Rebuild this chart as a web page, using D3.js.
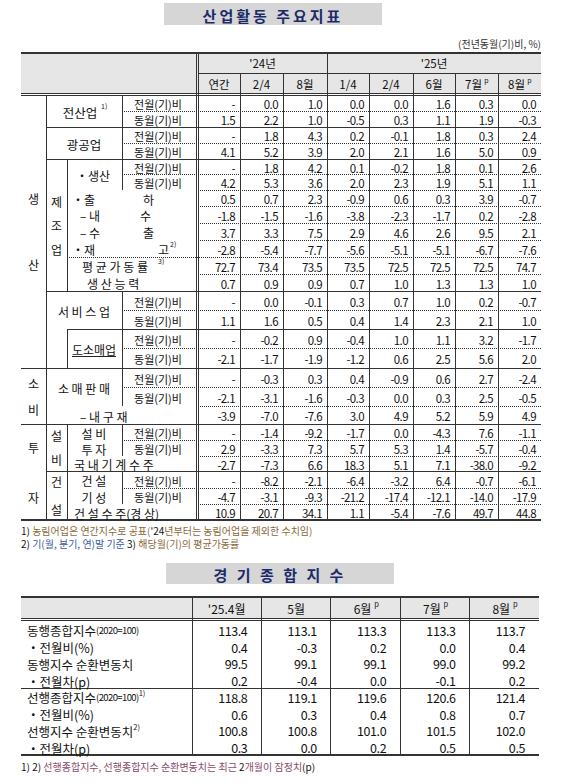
<!DOCTYPE html>
<html><head><meta charset="utf-8">
<script src="https://cdn.jsdelivr.net/npm/d3@7"></script>
<style>
body{margin:0;background:#fff;}
text{font-family:"Noto Sans CJK KR","Noto Sans",sans-serif;}
</style></head>
<body><svg id="c" width="564" height="783"></svg>
<script>
// ---- data: table 1 (산업활동 주요지표)
const yearHeads = ["'24년", "'25년"];
const colHeads = ["연간", "2/4", "8월", "1/4", "2/4", "6월", "7월p", "8월p"];
const allIndustry = [["-", "0.0", "1.0", "0.0", "0.0", "1.6", "0.3", "0.0"], ["1.5", "2.2", "1.0", "-0.5", "0.3", "1.1", "1.9", "-0.3"]];
const mining = [["-", "1.8", "4.3", "0.2", "-0.1", "1.8", "0.3", "2.4"], ["4.1", "5.2", "3.9", "2.0", "2.1", "1.6", "5.0", "0.9"]];
const mfgProd = [["-", "1.8", "4.2", "0.1", "-0.2", "1.8", "0.1", "2.6"], ["4.2", "5.3", "3.6", "2.0", "2.3", "1.9", "5.1", "1.1"]];
const shipment = ["0.5", "0.7", "2.3", "-0.9", "0.6", "0.3", "3.9", "-0.7"];
const domestic = ["-1.8", "-1.5", "-1.6", "-3.8", "-2.3", "-1.7", "0.2", "-2.8"];
const exportV = ["3.7", "3.3", "7.5", "2.9", "4.6", "2.6", "9.5", "2.1"];
const inventory = ["-2.8", "-5.4", "-7.7", "-5.6", "-5.1", "-5.1", "-6.7", "-7.6"];
const utilization = ["72.7", "73.4", "73.5", "73.5", "72.5", "72.5", "72.5", "74.7"];
const capacity = ["0.7", "0.9", "0.9", "0.7", "1.0", "1.3", "1.3", "1.0"];
const services = [["-", "0.0", "-0.1", "0.3", "0.7", "1.0", "0.2", "-0.7"], ["1.1", "1.6", "0.5", "0.4", "1.4", "2.3", "2.1", "1.0"]];
const wholesale = [["-", "-0.2", "0.9", "-0.4", "1.0", "1.1", "3.2", "-1.7"], ["-2.1", "-1.7", "-1.9", "-1.2", "0.6", "2.5", "5.6", "2.0"]];
const retail = [["-", "-0.3", "0.3", "0.4", "-0.9", "0.6", "2.7", "-2.4"], ["-2.1", "-3.1", "-1.6", "-0.3", "0.0", "0.3", "2.5", "-0.5"]];
const durables = ["-3.9", "-7.0", "-7.6", "3.0", "4.9", "5.2", "5.9", "4.9"];
const facility = [["-", "-1.4", "-9.2", "-1.7", "0.0", "-4.3", "7.6", "-1.1"], ["2.9", "-3.3", "7.3", "5.7", "5.3", "1.4", "-5.7", "-0.4"]];
const machinery = ["-2.7", "-7.3", "6.6", "18.3", "5.1", "7.1", "-38.0", "-9.2"];
const construction = [["-", "-8.2", "-2.1", "-6.4", "-3.2", "6.4", "-0.7", "-6.1"], ["-4.7", "-3.1", "-9.3", "-21.2", "-17.4", "-12.1", "-14.0", "-17.9"]];
const orders = ["10.9", "20.7", "34.1", "1.1", "-5.4", "-7.6", "49.7", "44.8"];

// ---- data: table 2 (경기종합지수)
const cliHeads = ["'25.4월", "5월", "6월p", "7월p", "8월p"];
const cliLabels = ["동행종합지수(2020=100)", "・전월비(%)", "동행지수 순환변동치", "・전월차(p)", "선행종합지수(2020=100)¹⁾", "・전월비(%)", "선행지수 순환변동치²⁾", "・전월차(p)"];
const cliValues = [
  ["113.4", "113.1", "113.3", "113.3", "113.7"],
  ["0.4", "-0.3", "0.2", "0.0", "0.4"],
  ["99.5", "99.1", "99.1", "99.0", "99.2"],
  ["0.2", "-0.4", "0.0", "-0.1", "0.2"],
  ["118.8", "119.1", "119.6", "120.6", "121.4"],
  ["0.6", "0.3", "0.4", "0.8", "0.7"],
  ["100.8", "100.8", "101.0", "101.5", "102.0"],
  ["0.3", "0.0", "0.2", "0.5", "0.5"]
];

const bodyRows = [
  allIndustry[0], allIndustry[1], mining[0], mining[1], mfgProd[0], mfgProd[1],
  shipment, domestic, exportV, inventory, utilization, capacity,
  services[0], services[1], wholesale[0], wholesale[1], retail[0], retail[1], durables,
  facility[0], facility[1], machinery, construction[0], construction[1], orders
];
const subLabels = ["전월(기)비", "동월(기)비"];
const pairStarts = [0, 2, 4, 12, 14, 16, 19, 22];

const svg = d3.select("#c");
const ink = "#111";

// ---- layout
const xCols = [198, 240, 283, 327, 369, 413, 455, 498, 541];
const yRows = [95, 111, 127, 143, 159, 174, 190, 206, 223, 240, 257, 274, 291, 310, 329, 348, 368, 387, 406, 424, 440, 456, 471, 488, 504, 520];
const X0 = 21, XA = 46, XB = 67, XC = 122, XR = 541;

function line(x1, y1, x2, y2, opt = {}) {
  svg.append("line").attr("x1", x1).attr("y1", y1).attr("x2", x2).attr("y2", y2)
    .attr("stroke", opt.c || "#333").attr("stroke-width", opt.w || 1)
    .attr("stroke-dasharray", opt.dash ? "1,1" : null).attr("shape-rendering", "crispEdges");
}
function txt(s, x, y, opt = {}) {
  return svg.append("text").attr("x", x).attr("y", y).attr("text-anchor", opt.a || "middle")
    .attr("dominant-baseline", "central").attr("font-size", opt.fs || 11.5)
    .attr("fill", opt.fill || ink).attr("letter-spacing", opt.ls || null)
    .attr("font-weight", opt.fw || null).text(s);
}
function titleBox(s, x, y, w, h) {
  svg.append("rect").attr("x", x).attr("y", y).attr("width", w).attr("height", h).attr("fill", "#d6d6d6");
  txt(s, x + w / 2, y + h / 2 + 1, { fs: 15, fw: "bold", fill: "#1d2a6a", ls: 3 });
}

// ---- table 1
titleBox("산업활동 주요지표", 164, 3, 218, 22);
txt("(전년동월(기)비, %)", XR, 43, { a: "end", fs: 10, fill: "#333" });

const hTop = 53, hMid = 73, hBot = 93;
svg.append("rect").attr("x", X0).attr("y", hTop).attr("width", XR - X0).attr("height", hBot - hTop).attr("fill", "#e6e6e6");
line(X0, hTop, XR, hTop, { w: 1.5 });
line(X0, hBot, XR, hBot); line(X0, hBot + 2, XR, hBot + 2);
line(xCols[0], hMid, XR, hMid);
line(xCols[0] - 2, hTop, xCols[0] - 2, yRows[yRows.length - 1]);
line(xCols[0], hTop, xCols[0], yRows[yRows.length - 1]);
xCols.slice(1, -1).forEach((x, i) => line(x, i === 2 ? hTop : hMid, x, yRows[yRows.length - 1]));
txt(yearHeads[0], (xCols[0] + xCols[3]) / 2, (hTop + hMid) / 2);
txt(yearHeads[1], (xCols[3] + xCols[8]) / 2, (hTop + hMid) / 2);
colHeads.forEach((h, i) => {
  const cx = (xCols[i] + xCols[i + 1]) / 2, cy = (hMid + hBot) / 2 + 1;
  if (h.endsWith("p")) {
    txt(h.slice(0, -1), cx - 3, cy);
    txt("p", cx + 10, cy - 4, { fs: 7 });
  } else txt(h, cx, cy);
});

// body values
const rowMid = i => (yRows[i] + yRows[i + 1]) / 2;
bodyRows.forEach((vals, r) => {
  vals.forEach((v, c) => txt(v, xCols[c + 1] - 5, rowMid(r) + 1, { a: "end", ls: -0.6 }));
});

// row separators
const solidFrom = { 2: XA, 4: XA, 10: XB, 12: XA, 14: XB, 16: X0, 19: X0, 22: XA, 25: X0 };
const inPair = r => pairStarts.includes(r - 1);
for (let r = 1; r < yRows.length; r++) {
  const y = yRows[r];
  if (r === 10) { line(XB, y, XR, y, { dash: true }); continue; }
  if (solidFrom[r] !== undefined) line(solidFrom[r], y, XR, y, { w: r === 25 ? 1.5 : 1 });
  else line(inPair(r) ? XC : xCols[0], y, XR, y, { dash: true });
}

// vertical label lines
line(XA, yRows[0], XA, yRows[25]);
[[4, 12], [14, 16], [19, 25]].forEach(([a, b]) => line(XB, yRows[a], XB, yRows[b]));
[[0, 6], [12, 18], [19, 21], [22, 24]].forEach(([a, b]) => line(XC, yRows[a], XC, yRows[b]));

pairStarts.forEach(r => {
  subLabels.forEach((s, k) => txt(s, (XC + xCols[0]) / 2 - 2, rowMid(r + k) + 1, { fs: 11 }));
});

// stacked vertical labels
function vstack(chars, x, r0, r1, gap) {
  const cy = (yRows[r0] + yRows[r1]) / 2, n = chars.length;
  chars.forEach((ch, i) => txt(ch, x, cy + (i - (n - 1) / 2) * gap, { fs: 12 }));
}
vstack(["생", "산"], (X0 + XA) / 2, 0, 16, 66);
vstack(["소", "비"], (X0 + XA) / 2, 16, 19, 26);
vstack(["투", "자"], (X0 + XA) / 2, 19, 25, 50);
vstack(["제", "조", "업"], (XA + XB) / 2, 4, 12, 24);
vstack(["설", "비"], (XA + XB) / 2, 19, 22, 24);
vstack(["건", "설"], (XA + XB) / 2, 22, 25, 28);

const mid2 = (r0, r1) => (yRows[r0] + yRows[r1]) / 2;
txt("전산업", 80, mid2(0, 2) + 1, { fs: 12.5 }); txt("1)", 101, mid2(0, 2) - 5, { fs: 7, a: "start" });
txt("광공업", 84, mid2(2, 4) + 1, { fs: 12.5 });
txt("・생산", 93, mid2(4, 6) + 1, { fs: 12 });
const leftRows = [[6, "・출", 72, "하", 143], [7, "– 내", 80, "수", 140], [8, "– 수", 80, "출", 143], [9, "・재", 72, "고", 158]];
leftRows.forEach(([r, a, xa, b, xb]) => { txt(a, xa, rowMid(r) + 1, { fs: 12, a: "start" }); txt(b, xb, rowMid(r) + 1, { fs: 12, a: "start" }); });
txt("2)", 170, rowMid(9) - 5, { fs: 7, a: "start" });
txt("평 균 가 동 률", 82, rowMid(10) + 1, { fs: 12, a: "start" }); txt("3)", 158, rowMid(10) - 5, { fs: 7, a: "start" });
txt("생  산  능  력", 87, rowMid(11) + 1, { fs: 12, a: "start" });
txt("서 비 스 업", 84, mid2(12, 14) + 1, { fs: 12 });
txt("도소매업", 94, mid2(14, 16) + 1, { fs: 12 });
line(72, mid2(14, 16) + 8, 116, mid2(14, 16) + 8, { c: "#222" });
txt("소 매 판 매", 84, mid2(16, 18) + 1, { fs: 12 });
txt("– 내 구 재", 80, rowMid(18) + 1, { fs: 12, a: "start" });
txt("설   비", 94, rowMid(19) + 1, { fs: 12 }); txt("투   자", 94, rowMid(20) + 1, { fs: 12 });
txt("국 내 기 계 수 주", 74, rowMid(21) + 1, { fs: 12, a: "start" });
txt("건   설", 94, rowMid(22) + 1, { fs: 12 }); txt("기   성", 94, rowMid(23) + 1, { fs: 12 });
txt("건 설 수 주(경 상)", 74, rowMid(24) + 1, { fs: 12, a: "start" });

// footnotes
const fn1 = svg.append("text").attr("x", X0).attr("y", 530).attr("dominant-baseline", "central").attr("font-size", 10);
fn1.append("tspan").attr("fill", ink).text("1) ");
fn1.append("tspan").attr("fill", "#8a6a3a").text("농림어업은 연간지수로 공표(");
fn1.append("tspan").attr("fill", ink).text("'24");
fn1.append("tspan").attr("fill", "#8a6a3a").text("년부터는 농림어업을 제외한 수치임)");
const fn2 = svg.append("text").attr("x", X0).attr("y", 543).attr("dominant-baseline", "central").attr("font-size", 10);
fn2.append("tspan").attr("fill", ink).text("2) ");
fn2.append("tspan").attr("fill", "#3a5aa0").text("기(월, 분기, 연)말 기준 ");
fn2.append("tspan").attr("fill", ink).text("3) ");
fn2.append("tspan").attr("fill", "#8a6a3a").text("해당월(기)의 평균가동률");

// ---- table 2
titleBox("경 기 종 합 지 수", 166, 563, 228, 21);
const x2 = d3.scaleBand().domain(d3.range(cliHeads.length)).range([192, 539]);
const y2 = d3.scaleBand().domain(d3.range(cliLabels.length)).range([621, 755]);
const t2Top = 597, t2Bot = 618;
svg.append("rect").attr("x", X0).attr("y", t2Top).attr("width", 539 - X0).attr("height", t2Bot - t2Top).attr("fill", "#e6e6e6");
line(X0, t2Top, 539, t2Top, { w: 1.5 });
line(X0, t2Bot, 539, t2Bot); line(X0, t2Bot + 2, 539, t2Bot + 2);
line(X0, y2(4), 539, y2(4));
line(X0, 755, 539, 755, { w: 1.5 });
cliHeads.forEach((h, i) => {
  line(x2(i), t2Top, x2(i), 755);
  const cx = x2(i) + x2.bandwidth() / 2, cy = (t2Top + t2Bot) / 2 + 1;
  if (h.endsWith("p")) { txt(h.slice(0, -1), cx - 3, cy, { fs: 12 }); txt("p", cx + 11, cy - 5, { fs: 7.5 }); }
  else txt(h, cx, cy, { fs: 12 });
});
cliLabels.forEach((l, r) => {
  const cy = y2(r) + y2.bandwidth() / 2 + 1;
  const m = l.match(/^(.*?)(\(2020=100\))?([¹²]⁾)?$/);
  const t = svg.append("text").attr("x", 27).attr("y", cy).attr("dominant-baseline", "central").attr("font-size", 12.5).attr("fill", ink);
  t.append("tspan").text(m[1]);
  if (m[2]) t.append("tspan").attr("font-size", 9.5).attr("letter-spacing", -0.6).text(m[2]);
  if (m[3]) t.append("tspan").attr("font-size", 7.5).attr("dy", -5).text(m[3] === "¹⁾" ? "1)" : "2)");
  cliValues[r].forEach((v, c) => txt(v, x2(c) + x2.bandwidth() - 14, cy, { a: "end", fs: 12.5, ls: -0.4 }));
});
const fn3 = svg.append("text").attr("x", X0).attr("y", 766).attr("dominant-baseline", "central").attr("font-size", 10);
fn3.append("tspan").attr("fill", ink).text("1) 2) ");
fn3.append("tspan").attr("fill", "#8a4a6a").text("선행종합지수, 선행종합지수 순환변동치는 최근 ");
fn3.append("tspan").attr("fill", ink).text("2");
fn3.append("tspan").attr("fill", "#8a4a6a").text("개월이 잠정치");
fn3.append("tspan").attr("fill", ink).text("(p)");
</script></body></html>
